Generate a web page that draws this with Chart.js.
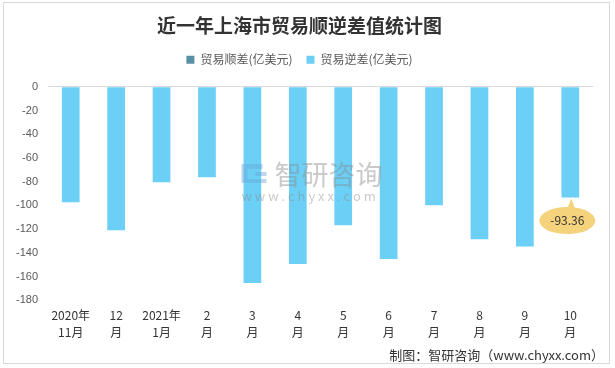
<!DOCTYPE html>
<html>
<head>
<meta charset="utf-8">
<script src="https://cdn.jsdelivr.net/npm/chart.js@4"></script>
<style>
  body { margin: 0; background: #fff; }
  #wrap { width: 615px; height: 368px; position: relative; }
</style>
</head>
<body>
<div id="wrap"><canvas id="myChart"></canvas></div>
<script>
// datos
const meses = [
  ["2020年", "11月"], ["12", "月"], ["2021年", "1月"], ["2", "月"], ["3", "月"], ["4", "月"],
  ["5", "月"], ["6", "月"], ["7", "月"], ["8", "月"], ["9", "月"], ["10", "月"]
];
const shunCha = [null, null, null, null, null, null, null, null, null, null, null, null];
const niCha = [-97.3, -120.8, -80.5, -76.3, -165.4, -149.4, -116.6, -145.2, -99.8, -128.4, -134.6, -93.36];
const yTicks = [0, -20, -40, -60, -80, -100, -120, -140, -160, -180];

const fuente = "'Noto Sans CJK SC', 'Liberation Sans', sans-serif";

// espacio extra debajo de la leyenda
const espacioLeyenda = {
  id: "espacioLeyenda",
  beforeInit(chart) {
    const fitOriginal = chart.legend.fit;
    chart.legend.fit = function () {
      fitOriginal.bind(chart.legend)();
      this.height += 11;
    };
  }
};

// marco, marca de agua, globo y pie
const extras = {
  id: "extras",
  afterDatasetsDraw(chart) {
    const ctx = chart.ctx;
    const area = chart.chartArea;
    const cx = (area.left + area.right) / 2;
    ctx.save();
    ctx.globalAlpha = 0.45;
    ctx.fillStyle = "#8a8a8a";
    ctx.font = "27px " + fuente;
    ctx.textAlign = "left";
    ctx.textBaseline = "middle";
    ctx.fillText("智研咨询", cx - 46, 175);
    ctx.font = "13px " + fuente;
    ctx.fillText("w w w . c h y x x . c o m", cx - 79, 196);
    // logo
    ctx.fillStyle = "#6aa6d8";
    ctx.fillRect(cx - 79, 164, 6, 19);
    ctx.fillRect(cx - 73, 164, 15, 5);
    ctx.fillRect(cx - 65, 172, 11, 4);
    ctx.fillRect(cx - 73, 179, 19, 4);
    ctx.restore();

    // globo con la etiqueta del ultimo valor
    const meta = chart.getDatasetMeta(1);
    const bar = meta.data[meta.data.length - 1];
    const bx = bar.x - 3, by = bar.y + 23;
    ctx.save();
    ctx.fillStyle = "#f5d27c";
    ctx.beginPath();
    ctx.ellipse(bx, by, 28, 13.5, 0, 0, Math.PI * 2);
    ctx.fill();
    ctx.beginPath();
    ctx.moveTo(bar.x - 3, by - 12);
    ctx.lineTo(bar.x + 1, bar.y + 1);
    ctx.lineTo(bar.x + 5, by - 11);
    ctx.closePath();
    ctx.fill();
    ctx.fillStyle = "#333";
    ctx.font = "12px " + fuente;
    ctx.textAlign = "center";
    ctx.textBaseline = "middle";
    ctx.fillText(niCha[niCha.length - 1].toFixed(2), bx, by);
    ctx.restore();
  },
  afterDraw(chart) {
    const ctx = chart.ctx;
    ctx.save();
    ctx.strokeStyle = "#d9d9d9";
    ctx.lineWidth = 1;
    ctx.strokeRect(3.5, 2.5, 606, 361);
    ctx.fillStyle = "#333";
    ctx.font = "13px " + fuente;
    ctx.textAlign = "right";
    ctx.textBaseline = "middle";
    ctx.fillText("制图：智研咨询（www.chyxx.com）", 604, 355);
    ctx.restore();
  }
};

const config = {
  type: "bar",
  data: {
    labels: meses,
    datasets: [
      {
        label: "贸易顺差(亿美元)",
        data: shunCha,
        backgroundColor: "#5b8fa8",
        grouped: false
      },
      {
        label: "贸易逆差(亿美元)",
        data: niCha,
        backgroundColor: "#6bcff6",
        grouped: false
      }
    ]
  },
  options: {
    responsive: true,
    maintainAspectRatio: false,
    animation: false,
    layout: { padding: { left: 6, right: 22, top: 8, bottom: 20 } },
    categoryPercentage: 1,
    barPercentage: 0.39,
    plugins: {
      title: {
        display: true,
        text: "近一年上海市贸易顺逆差值统计图",
        color: "#333",
        font: { family: fuente, size: 19, weight: "bold" },
        padding: { top: 6, bottom: 3 }
      },
      legend: {
        display: true,
        labels: {
          color: "#595959",
          font: { family: fuente, size: 12 },
          boxWidth: 8,
          boxHeight: 8,
          padding: 14
        }
      },
      tooltip: { enabled: false }
    },
    scales: {
      x: {
        grid: { display: false, drawTicks: false },
        border: { display: false },
        ticks: {
          color: "#333",
          font: { family: fuente, size: 12, lineHeight: 1.4 },
          maxRotation: 0,
          autoSkip: false,
          padding: 7
        }
      },
      y: {
        min: -180,
        max: 0,
        afterBuildTicks(axis) {
          axis.ticks = yTicks.map((v) => ({ value: v }));
        },
        border: { display: false },
        grid: {
          drawTicks: false,
          color: (c) => (c.tick && c.tick.value === 0 ? "#d9d9d9" : "transparent")
        },
        ticks: {
          color: "#595959",
          font: { family: "'Liberation Sans', sans-serif", size: 11 },
          padding: 10
        }
      }
    }
  },
  plugins: [espacioLeyenda, extras]
};

const myChart = document.getElementById("myChart");
const chart = new Chart(myChart, config);
</script>
</body>
</html>
